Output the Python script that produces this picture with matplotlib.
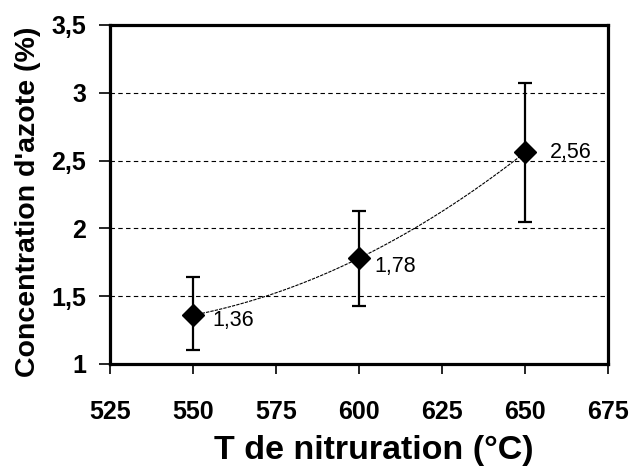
import matplotlib.pyplot as plt
import numpy as np
from matplotlib.ticker import FuncFormatter, MultipleLocator

plt.rcParams['font.family'] = ['Liberation Sans', 'DejaVu Sans']

# Data
temperature = np.array([550, 600, 650])
azote = np.array([1.36, 1.78, 2.56])
err_low = np.array([0.26, 0.35, 0.51])
err_high = np.array([0.28, 0.35, 0.51])
point_labels = ['1,36', '1,78', '2,56']

fig = plt.figure(figsize=(6.31, 4.76), dpi=100)
ax = fig.add_axes([0.1743, 0.2353, 0.7893, 0.7122])

# 2nd order trend line through the points
coef = np.polyfit(temperature, azote, 2)
xs = np.linspace(temperature[0], temperature[-1], 100)
ax.plot(xs, np.polyval(coef, xs), color='black', lw=0.8, ls=(0, (3, 1)), zorder=2)

ax.errorbar(temperature, azote, yerr=[err_low, err_high], fmt='D', color='black',
            ms=11, elinewidth=1.6, capsize=5, capthick=1.6, zorder=3)

offsets = [(14, -4), (11, -6), (18, 0)]
for x, y, lab, off in zip(temperature, azote, point_labels, offsets):
    ax.annotate(lab, (x, y), xytext=off, textcoords='offset points',
                fontsize=15.5, va='center', ha='left')

ax.set_xlim(525, 675)
ax.set_ylim(1, 3.5)
ax.xaxis.set_major_locator(MultipleLocator(25))
ax.yaxis.set_major_locator(MultipleLocator(0.5))
ax.yaxis.set_major_formatter(FuncFormatter(lambda v, p: ('%g' % v).replace('.', ',')))

for y in [1.5, 2, 2.5, 3]:
    ax.axhline(y, color='black', lw=0.8, ls=(0, (4, 3)), zorder=1)

for s in ax.spines.values():
    s.set_linewidth(2.3)

ax.tick_params(axis='x', direction='out', length=7, width=1.2, pad=19, labelsize=18)
ax.tick_params(axis='y', direction='out', length=8, width=1.2, pad=9, labelsize=18)
for t in ax.get_xticklabels() + ax.get_yticklabels():
    t.set_fontweight('bold')

ax.set_xlabel('T de nitruration (°C)', fontsize=24.5, fontweight='bold')
ax.set_ylabel("Concentration d'azote (%)", fontsize=20.5, fontweight='bold')
ax.xaxis.set_label_coords(0.53, -0.255, transform=ax.transAxes)
ax.xaxis.label.set_va('center')
ax.yaxis.set_label_coords(-0.165, 0.478, transform=ax.transAxes)
ax.yaxis.label.set_va('center')

fig.savefig('out.png', dpi=100)
